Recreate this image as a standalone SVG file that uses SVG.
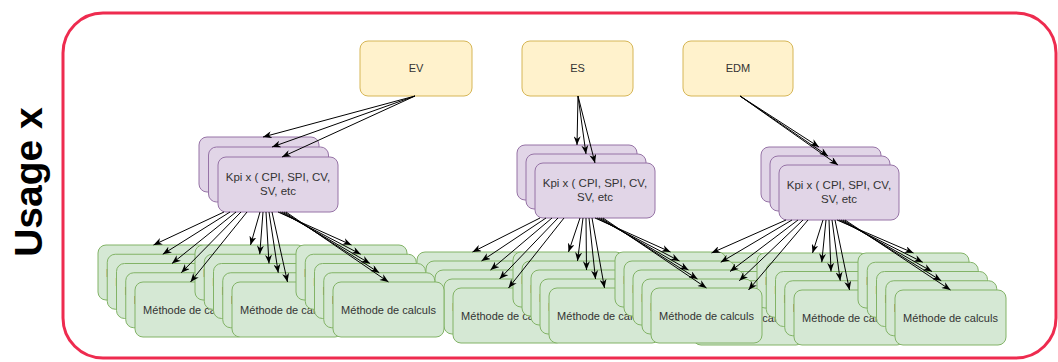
<svg xmlns="http://www.w3.org/2000/svg" width="1058" height="362" viewBox="0 0 1058 362">
<style>
.y{fill:#fff2cc;stroke:#d6b656;stroke-width:1}
.p{fill:#e1d5e7;stroke:#9673a6;stroke-width:1}
.g{fill:#d5e8d4;stroke:#82b366;stroke-width:1}
.t{font-family:"Liberation Sans",Arial,sans-serif;font-size:11px;fill:#333;text-anchor:middle}
.k{font-family:"Liberation Sans",Arial,sans-serif;font-size:11.5px;fill:#333;text-anchor:middle}
.c path{fill:none;stroke:#000;stroke-width:1;marker-end:url(#a)}
</style>
<defs>
<marker id="a" viewBox="0 0 10 8" refX="10" refY="4" markerWidth="9" markerHeight="7" markerUnits="userSpaceOnUse" orient="auto"><path d="M0,0 L10,4 L0,8 L3,4 Z" fill="#000"/></marker>
<g id="m"><rect class="g" x="0" y="0" width="111" height="55" rx="8"/><text class="t" x="55.5" y="31.5">Méthode de calculs</text></g>
<rect id="kb" class="p" x="0" y="0" width="120" height="55" rx="8"/>
</defs>
<rect x="63" y="13" width="993" height="345" rx="40" fill="none" stroke="#ee2b4f" stroke-width="3"/>
<text transform="translate(42,182) rotate(-90)" font-family="Liberation Sans,Arial,sans-serif" font-weight="bold" font-size="39" fill="#000" text-anchor="middle">Usage x</text>
<g id="ev"><rect class="y" x="360" y="41" width="112" height="55" rx="8"/><text class="t" x="416" y="72">EV</text></g>
<g id="es"><rect class="y" x="522" y="41" width="111" height="55" rx="8"/><text class="t" x="577.5" y="72">ES</text></g>
<g id="edm"><rect class="y" x="683" y="41" width="110" height="55" rx="8"/><text class="t" x="738" y="72">EDM</text></g>
<g id="kpi1a"><use href="#kb" x="199" y="137"/></g>
<g id="kpi1b"><use href="#kb" x="208.5" y="147"/></g>
<g id="kpi1c"><use href="#kb" x="218" y="157"/><text class="k" x="278" y="181">Kpi x ( CPI, SPI, CV,</text><text class="k" x="278" y="195">SV, etc</text></g>
<g id="kpi2a"><use href="#kb" x="517" y="145"/></g>
<g id="kpi2b"><use href="#kb" x="526" y="154"/></g>
<g id="kpi2c"><use href="#kb" x="535" y="163"/><text class="k" x="595" y="187">Kpi x ( CPI, SPI, CV,</text><text class="k" x="595" y="201">SV, etc</text></g>
<g id="kpi3a"><use href="#kb" x="761" y="147"/></g>
<g id="kpi3b"><use href="#kb" x="770" y="156"/></g>
<g id="kpi3c"><use href="#kb" x="779" y="165"/><text class="k" x="839" y="189">Kpi x ( CPI, SPI, CV,</text><text class="k" x="839" y="203">SV, etc</text></g>
<g id="m3a1"><use href="#m" x="656" y="253"/></g>
<g id="m3a2"><use href="#m" x="665.25" y="262.25"/></g>
<g id="m3a3"><use href="#m" x="674.5" y="271.5"/></g>
<g id="m3a4"><use href="#m" x="683.75" y="280.75"/></g>
<g id="m3a5"><use href="#m" x="693" y="290"/></g>
<g id="m3b1"><use href="#m" x="757" y="253"/></g>
<g id="m3b2"><use href="#m" x="766.25" y="262.25"/></g>
<g id="m3b3"><use href="#m" x="775.5" y="271.5"/></g>
<g id="m3b4"><use href="#m" x="784.75" y="280.75"/></g>
<g id="m3b5"><use href="#m" x="794" y="290"/></g>
<g id="m3c1"><use href="#m" x="858" y="253"/></g>
<g id="m3c2"><use href="#m" x="867.25" y="262.25"/></g>
<g id="m3c3"><use href="#m" x="876.5" y="271.5"/></g>
<g id="m3c4"><use href="#m" x="885.75" y="280.75"/></g>
<g id="m3c5"><use href="#m" x="895" y="290"/></g>
<g id="m2a1"><use href="#m" x="417" y="252"/></g>
<g id="m2a2"><use href="#m" x="426" y="261"/></g>
<g id="m2a3"><use href="#m" x="435" y="270"/></g>
<g id="m2a4"><use href="#m" x="444" y="279"/></g>
<g id="m2a5"><use href="#m" x="453" y="288"/></g>
<g id="m2b1"><use href="#m" x="513" y="252"/></g>
<g id="m2b2"><use href="#m" x="522" y="261"/></g>
<g id="m2b3"><use href="#m" x="531" y="270"/></g>
<g id="m2b4"><use href="#m" x="540" y="279"/></g>
<g id="m2b5"><use href="#m" x="549" y="288"/></g>
<g id="m2c1"><use href="#m" x="615" y="252"/></g>
<g id="m2c2"><use href="#m" x="624" y="261"/></g>
<g id="m2c3"><use href="#m" x="633" y="270"/></g>
<g id="m2c4"><use href="#m" x="642" y="279"/></g>
<g id="m2c5"><use href="#m" x="651" y="288"/></g>
<g id="m1a1"><use href="#m" x="98" y="245"/></g>
<g id="m1a2"><use href="#m" x="107.25" y="254.25"/></g>
<g id="m1a3"><use href="#m" x="116.5" y="263.5"/></g>
<g id="m1a4"><use href="#m" x="125.75" y="272.75"/></g>
<g id="m1a5"><use href="#m" x="135" y="282"/></g>
<g id="m1b1"><use href="#m" x="195" y="245"/></g>
<g id="m1b2"><use href="#m" x="204.25" y="254.25"/></g>
<g id="m1b3"><use href="#m" x="213.5" y="263.5"/></g>
<g id="m1b4"><use href="#m" x="222.75" y="272.75"/></g>
<g id="m1b5"><use href="#m" x="232" y="282"/></g>
<g id="m1c1"><use href="#m" x="296" y="245"/></g>
<g id="m1c2"><use href="#m" x="305.25" y="254.25"/></g>
<g id="m1c3"><use href="#m" x="314.5" y="263.5"/></g>
<g id="m1c4"><use href="#m" x="323.75" y="272.75"/></g>
<g id="m1c5"><use href="#m" x="333" y="282"/></g>
<g id="connectors" class="c">
<path d="M415,96 L263,137"/><path d="M415,96 L272,147"/><path d="M415,96 L282,157"/>
<path d="M578,96 L577,145"/><path d="M578,96 L586,154"/><path d="M578,96 L595,163"/>
<path d="M740,96 L819,147"/><path d="M740,96 L828,156"/><path d="M740,96 L838,165"/>
<path d="M224,212 L153.5,245"/><path d="M230,212 L162.75,254.25"/><path d="M236,212 L172,263.5"/><path d="M241,212 L181.25,272.75"/><path d="M247,212 L190.5,282"/>
<path d="M260,212 L250.5,245"/><path d="M263,212 L259.75,254.25"/><path d="M266,212 L269,263.5"/><path d="M269,212 L278.25,272.75"/><path d="M272,212 L287.5,282"/>
<path d="M278,212 L351.5,245"/><path d="M280,212 L360.75,254.25"/><path d="M282,212 L370,263.5"/><path d="M284,212 L379.25,272.75"/><path d="M286,212 L388.5,282"/>
<path d="M540,218 L472.5,252"/><path d="M546,218 L481.5,261"/><path d="M552,218 L490.5,270"/><path d="M558,218 L499.5,279"/><path d="M564,218 L508.5,288"/>
<path d="M580,218 L568.5,252"/><path d="M583,218 L577.5,261"/><path d="M586,218 L586.5,270"/><path d="M589,218 L595.5,279"/><path d="M592,218 L604.5,288"/>
<path d="M595,218 L670.5,252"/><path d="M597,218 L679.5,261"/><path d="M599,218 L688.5,270"/><path d="M601,218 L697.5,279"/><path d="M603,218 L706.5,288"/>
<path d="M786,220 L711.5,253"/><path d="M792,220 L720.75,262.25"/><path d="M798,220 L730,271.5"/><path d="M803,220 L739.25,280.75"/><path d="M808,220 L748.5,290"/>
<path d="M823,220 L812.5,253"/><path d="M826,220 L821.75,262.25"/><path d="M829,220 L831,271.5"/><path d="M832,220 L840.25,280.75"/><path d="M835,220 L849.5,290"/>
<path d="M837,220 L913.5,253"/><path d="M839,220 L922.75,262.25"/><path d="M841,220 L932,271.5"/><path d="M843,220 L941.25,280.75"/><path d="M845,220 L950.5,290"/>
</g>
</svg>
